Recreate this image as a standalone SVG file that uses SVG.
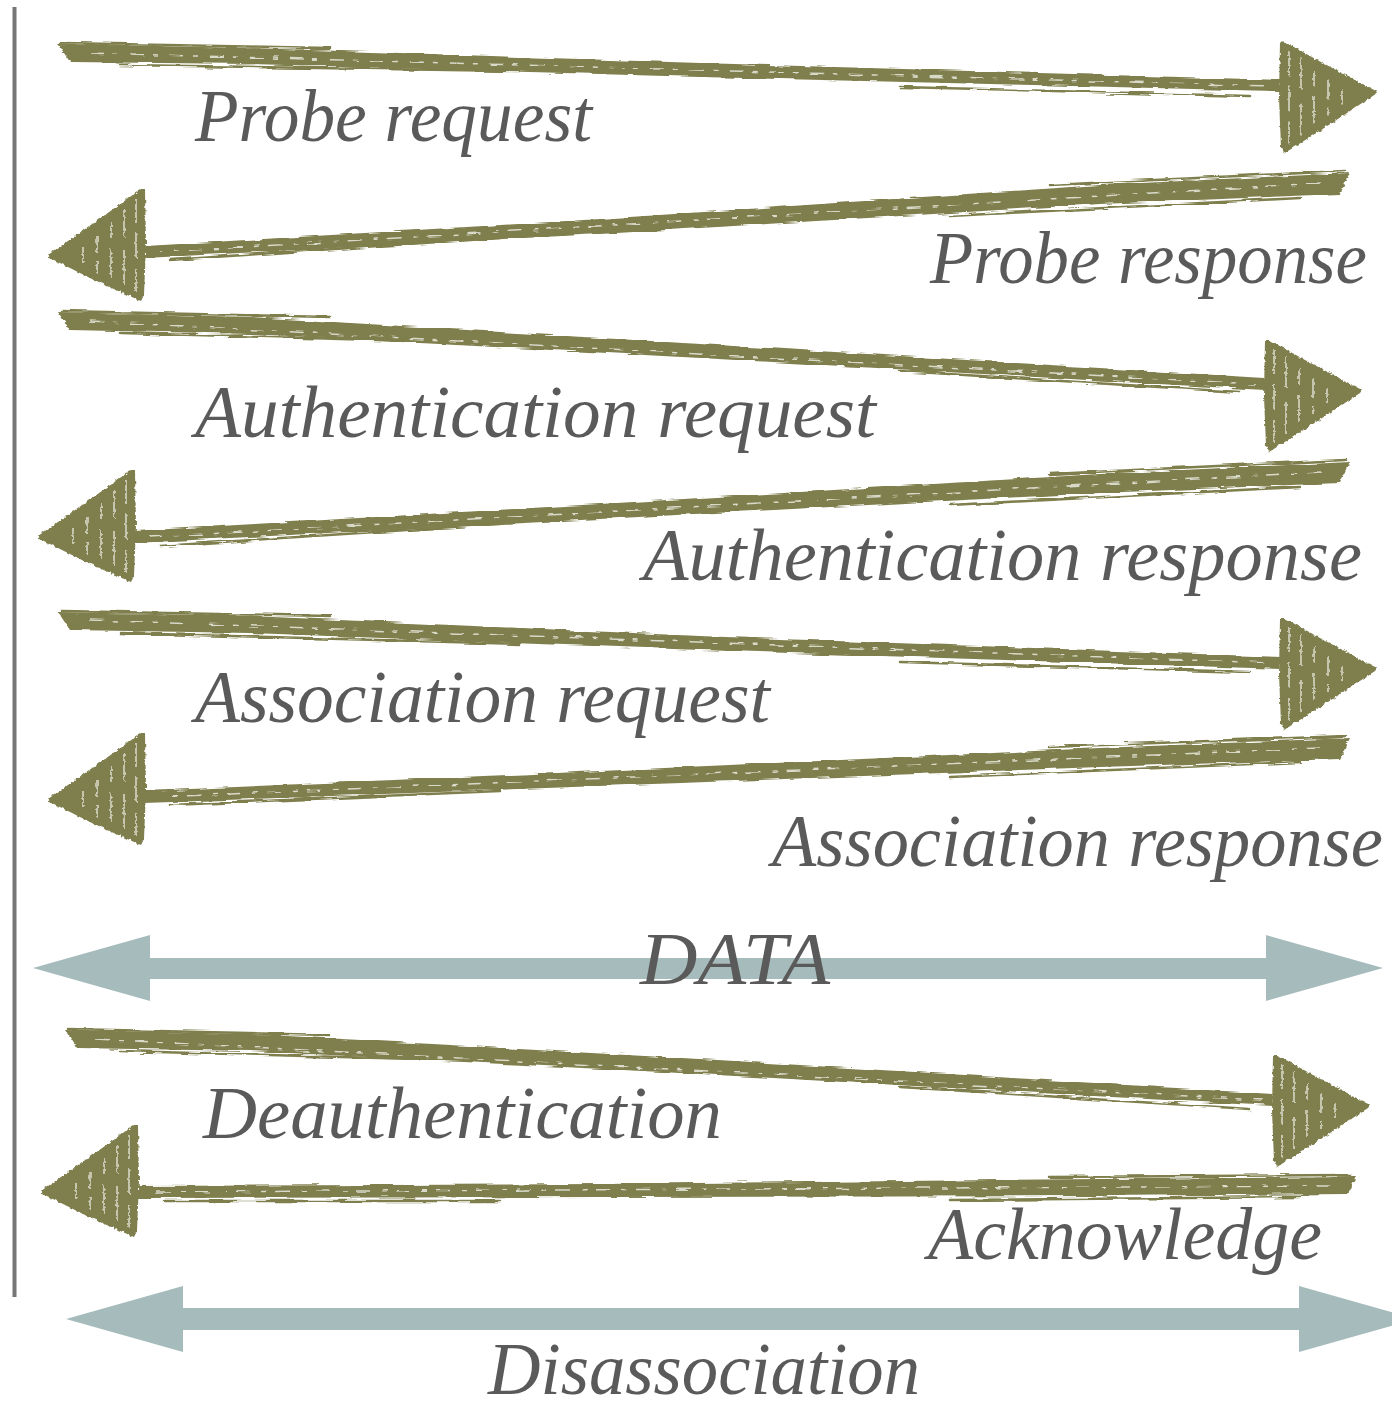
<svg xmlns="http://www.w3.org/2000/svg" xmlns:xlink="http://www.w3.org/1999/xlink" width="1392" height="1401" viewBox="0 0 1392 1401">
  <style>
    .lbl { font-family: "Liberation Serif", "DejaVu Serif", serif; font-style: italic; font-size: 74px; fill: #5a5a5a; }
    .brush { fill: #7f7f4d; }
    .strand { fill: none; stroke: #7f7f4d; stroke-width: 2.5; stroke-linecap: round; }
    .gap { fill: none; stroke: #ffffff; stroke-width: 1.5; stroke-dasharray: 14 9 5 12; opacity: 0.7; }
    .streak { fill: none; stroke: #ffffff; stroke-width: 2; opacity: 0.55; }
    .bold { fill: #a6bbbb; }
  </style>
  <defs>
    <filter id="rough" x="-3%" y="-40%" width="106%" height="180%">
      <feTurbulence type="fractalNoise" baseFrequency="0.03 0.35" numOctaves="2" seed="4" result="n"/>
      <feDisplacementMap in="SourceGraphic" in2="n" scale="5" xChannelSelector="R" yChannelSelector="G"/>
    </filter>
    <filter id="roughHead" x="-10%" y="-10%" width="120%" height="120%">
      <feTurbulence type="fractalNoise" baseFrequency="0.25" numOctaves="2" seed="7" result="n"/>
      <feDisplacementMap in="SourceGraphic" in2="n" scale="4" xChannelSelector="R" yChannelSelector="G"/>
    </filter>
    <g id="headR">
      <path class="brush" d="M0,-56 L4,-56 L40,-36 L97,-6 L95,-3 L45,30 L4,56 L1,50 L-1,0 Z"/>
      <path class="streak" d="M9,-46 V-22 M9,-12 V14 M9,24 V46 M21,-40 V-8 M21,6 V38 M34,-28 V-12 M34,-2 V26 M48,-18 V2 M48,10 V18 M62,-8 V6"/>
    </g>
    <g id="headL">
      <path class="brush" d="M0,-56 L-4,-56 L-40,-30 L-97,10 L-95,13 L-45,38 L-4,56 L-1,50 L1,0 Z"/>
      <path class="streak" d="M-9,-46 V-22 M-9,-12 V14 M-9,24 V46 M-21,-36 V-8 M-21,6 V40 M-34,-22 V-6 M-34,4 V34 M-48,-10 V8 M-48,16 V28 M-62,2 V18"/>
    </g>
  </defs>

  <g id="lifeline">
    <line x1="14.5" y1="7" x2="14.5" y2="1297" stroke="#777777" stroke-width="4"/>
  </g>

  <g id="connectors">
    <g id="probe-request-arrow" filter="url(#rough)">
      <path class="brush" d="M58,44 L250,48 L700,63 L1280,80 L1280,91 L700,77 L250,64 L70,62 Z"/>
      <path class="strand" d="M62,43 L330,48 M120,65 L520,71 M900,87 L1250,96"/>
      <path class="gap" d="M90,53 L1270,86"/>
    </g>
    <use href="#headR" xlink:href="#headR" x="1280" y="97.5" filter="url(#roughHead)"/>

    <g id="probe-response-arrow" filter="url(#rough)">
      <path class="brush" d="M1350,173 L1100,185 L600,219 L145,246 L145,258 L600,234 L1100,204 L1340,194 Z"/>
      <path class="strand" d="M1345,171 L1050,185 M1300,198 L950,216 M500,238 L170,260"/>
      <path class="gap" d="M1320,183 L160,252"/>
    </g>
    <use href="#headL" xlink:href="#headL" x="145" y="245" filter="url(#roughHead)"/>

    <g id="auth-request-arrow" filter="url(#rough)">
      <path class="brush" d="M58,312 L250,317 L700,344 L1265,378 L1265,390 L700,358 L250,334 L70,330 Z"/>
      <path class="strand" d="M62,311 L330,317 M120,333 L520,344 M900,371 L1240,392"/>
      <path class="gap" d="M90,321 L1255,384"/>
    </g>
    <use href="#headR" xlink:href="#headR" x="1265" y="396" filter="url(#roughHead)"/>

    <g id="auth-response-arrow" filter="url(#rough)">
      <path class="brush" d="M1350,462 L1100,474 L600,504 L135,531 L135,543 L600,519 L1100,493 L1340,483 Z"/>
      <path class="strand" d="M1345,460 L1050,474 M1300,487 L950,505 M500,524 L160,546"/>
      <path class="gap" d="M1320,472 L150,537"/>
    </g>
    <use href="#headL" xlink:href="#headL" x="135" y="526" filter="url(#roughHead)"/>

    <g id="assoc-request-arrow" filter="url(#rough)">
      <path class="brush" d="M58,612 L250,616 L700,636 L1280,657 L1280,669 L700,650 L250,633 L70,630 Z"/>
      <path class="strand" d="M62,611 L330,616 M120,633 L520,644 M900,662 L1250,672"/>
      <path class="gap" d="M90,620 L1270,663"/>
    </g>
    <use href="#headR" xlink:href="#headR" x="1280" y="674" filter="url(#roughHead)"/>

    <g id="assoc-response-arrow" filter="url(#rough)">
      <path class="brush" d="M1350,738 L1100,748 L600,771 L145,791 L145,803 L600,786 L1100,767 L1340,759 Z"/>
      <path class="strand" d="M1345,736 L1050,747 M1300,762 L950,777 M500,791 L170,805"/>
      <path class="gap" d="M1320,748 L160,797"/>
    </g>
    <use href="#headL" xlink:href="#headL" x="145" y="789" filter="url(#roughHead)"/>

    <g id="data-arrow">
      <polygon class="bold" points="33,968 150,935 150,958 1266,958 1266,935 1383,968 1266,1001 1266,979 150,979 150,1001"/>
    </g>

    <g id="deauth-arrow" filter="url(#rough)">
      <path class="brush" d="M65,1030 L250,1034 L700,1059 L1273,1094 L1273,1106 L700,1074 L250,1051 L77,1048 Z"/>
      <path class="strand" d="M68,1029 L330,1035 M120,1051 L520,1062 M900,1087 L1250,1109"/>
      <path class="gap" d="M95,1039 L1262,1100"/>
    </g>
    <use href="#headR" xlink:href="#headR" x="1273" y="1111" filter="url(#roughHead)"/>

    <g id="ack-arrow" filter="url(#rough)">
      <path class="brush" d="M1357,1177 L1100,1179 L600,1184 L138,1186 L138,1198 L600,1197 L1100,1196 L1347,1194 Z"/>
      <path class="strand" d="M1352,1175 L1050,1177 M1300,1197 L950,1200 M500,1201 L165,1201"/>
      <path class="gap" d="M1330,1186 L155,1192"/>
    </g>
    <use href="#headL" xlink:href="#headL" x="138" y="1181" filter="url(#roughHead)"/>

    <g id="disassoc-arrow">
      <polygon class="bold" points="66,1319 183,1286 183,1308 1299,1308 1299,1286 1416,1319 1299,1352 1299,1330 183,1330 183,1352"/>
    </g>
  </g>

  <g id="labels">
    <g id="lbl-probe-request"><text class="lbl" x="195" y="141" textLength="397" lengthAdjust="spacingAndGlyphs">Probe request</text></g>
    <g id="lbl-probe-response"><text class="lbl" x="930" y="283" textLength="437" lengthAdjust="spacingAndGlyphs">Probe response</text></g>
    <g id="lbl-auth-request"><text class="lbl" x="195" y="437" textLength="681" lengthAdjust="spacingAndGlyphs">Authentication request</text></g>
    <g id="lbl-auth-response"><text class="lbl" x="643" y="580" textLength="719" lengthAdjust="spacingAndGlyphs">Authentication response</text></g>
    <g id="lbl-assoc-request"><text class="lbl" x="195" y="722" textLength="575" lengthAdjust="spacingAndGlyphs">Association request</text></g>
    <g id="lbl-assoc-response"><text class="lbl" x="772" y="866" textLength="611" lengthAdjust="spacingAndGlyphs">Association response</text></g>
    <g id="lbl-data"><text class="lbl" x="640" y="984" textLength="190" lengthAdjust="spacingAndGlyphs">DATA</text></g>
    <g id="lbl-deauth"><text class="lbl" x="203" y="1138" textLength="519" lengthAdjust="spacingAndGlyphs">Deauthentication</text></g>
    <g id="lbl-ack"><text class="lbl" x="928" y="1259" textLength="394" lengthAdjust="spacingAndGlyphs">Acknowledge</text></g>
    <g id="lbl-disassoc"><text class="lbl" x="488" y="1394" textLength="432" lengthAdjust="spacingAndGlyphs">Disassociation</text></g>
  </g>
</svg>
